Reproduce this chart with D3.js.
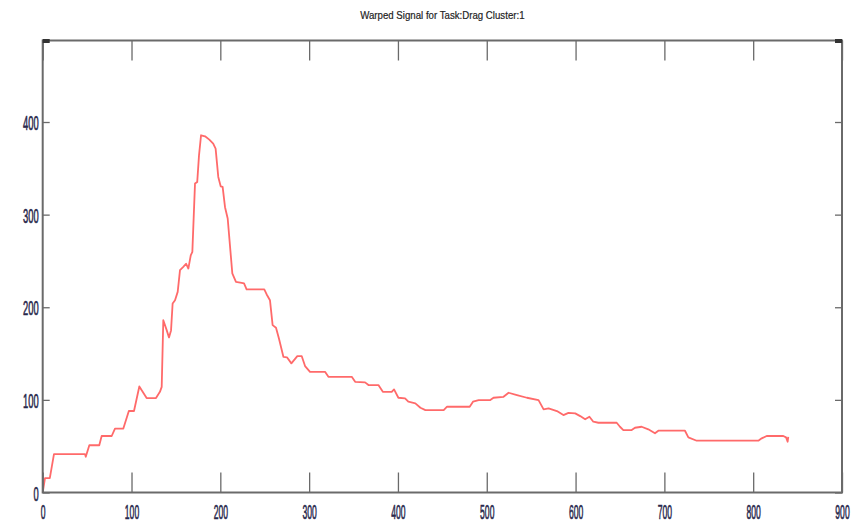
<!DOCTYPE html>
<html lang="en">
<head>
    <meta charset="UTF-8">
    <script type="text/javascript" src="https://cdn.jsdelivr.net/npm/d3@7"></script>
    <title>Warped Signal</title>
    <style type="text/css">
        body {
            margin: 0;
            background-color: white;
        }

        .axis path {
            display: none;
        }

        .axis line {
            stroke: #6a6a6a;
            stroke-width: 1.3;
        }

        .axis text {
            font-family: "Liberation Sans", Arial, sans-serif;
            font-size: 11px;
            fill: #28284c;
            stroke: #28284c;
            stroke-width: 0.35;
        }
    </style>
</head>
<body>
<svg id="chart" width="862" height="524"></svg>

<script>
    // sample index / warped value
    var sigX = [0, 2.6, 8, 12.7, 47.6, 48.5, 52.5, 63.7, 66.4, 77.7, 81.4, 90.8, 97, 102.8, 108.8,
        117, 127.6, 132, 134, 135.8, 139.6, 142.2, 144.5, 146.3, 149, 152, 154.6, 158.3, 161.4,
        164, 166.7, 168.5, 171.5, 174, 176, 178.3, 182.8, 187.6, 192, 194.7, 197.7, 200.4, 202.6,
        205.3, 208.3, 213.5, 217.6, 224, 226.7, 229.6, 249.5, 252.2, 255.9, 258.9, 262.7, 266,
        271, 275, 280, 286.7, 291.7, 295.4, 301, 317.9, 321.7, 348, 351.8, 363, 366.8, 378, 383,
        393, 395.6, 400.5, 408, 411.7, 419.6, 425.3, 430.9, 451.5, 455.3, 480.8, 484.5, 490.9,
        504, 507.6, 518.9, 524.6, 534, 545.2, 558.3, 564, 569.6, 579, 586.3, 592, 599.6, 605.2,
        610.8, 615.6, 620, 625.7, 646.3, 650, 653.8, 663.2, 666.9, 674.4, 681.9, 689.4, 693.2,
        723.2, 727, 736.4, 805.8, 809.6, 815.2, 833.9, 837, 838.8, 839.5];
    var sigY = [0, 15.5, 15.5, 41.5, 41.5, 38.6, 51, 51, 61, 61, 69, 69, 88, 88, 114.5,
        102, 102, 108.7, 114, 186, 175.3, 167.4, 175, 204, 207.6, 216.6, 240, 243.6, 247,
        241.8, 256, 259.8, 333.6, 335.3, 364, 385.7, 384.6, 381, 376.7, 371.3, 340.7, 330.6, 330,
        308, 295.8, 236.5, 227.4, 226.3, 225.7, 219.2, 219.2, 213.8, 207.6, 180.7, 177.8, 166.3,
        146.5, 146, 139.4, 147.2, 147.2, 136.5, 130.3, 130.3, 124.9, 124.9, 119.5, 118.9, 116, 116, 108.7,
        108.7, 111.3, 102.3, 101.6, 98, 96.2, 91.5, 89, 89, 92.6, 92.6, 98, 99.8,
        99.8, 102.3, 103.3, 107.7, 105.2, 102.3, 99.8, 89.8, 90.8, 87.9, 83.6, 86, 85.4, 82.5,
        79, 81.8, 76.4, 75.3, 75.3, 71, 67.4, 67.4, 69.9, 71, 68.2, 63.9, 66.7,
        66.7, 59.5, 55.9, 55.9, 58.5, 61, 61, 59.5, 54.8, 60];

    var xTicks = [0, 100, 200, 300, 400, 500, 600, 700, 800, 900];
    var yTicks = [0, 100, 200, 300, 400];
    var titleText = "Warped Signal for Task:Drag Cluster:1";

    drawWarped();

    function drawWarped() {
        // plot box
        var boxL = 42.7, boxR = 842, boxT = 40.5, boxB = 492.5;

        var svg = d3.select("#chart");

        var x = d3.scaleLinear().domain([0, 900]).range([boxL, boxR]);
        var y = d3.scaleLinear().domain([0, 488]).range([boxB, boxT]);

        // data line
        var pts = sigX.map(function(d, i) { return [d, sigY[i]]; });
        var line = d3.line()
                .x(function(d) { return x(d[0]); })
                .y(function(d) { return y(d[1]); });

        svg.append("path")
                .datum(pts)
                .attr("d", line)
                .attr("fill", "none")
                .attr("stroke", "#ff5a5a")
                .attr("stroke-width", 1.8)
                .attr("stroke-opacity", 0.9)
                .attr("stroke-linejoin", "round");

        // inward ticks (matlab style), bottom with labels, top without
        var gxB = svg.append("g")
                .attr("class", "axis")
                .attr("transform", "translate(0," + boxB + ")")
                .call(d3.axisBottom(x).tickValues(xTicks).tickSize(-20).tickFormat(d3.format("d")));
        gxB.selectAll("text")
                .attr("y", 0).attr("dy", null)
                .attr("dominant-baseline", "central")
                .attr("transform", "translate(0,19) scale(0.78,1.9)");

        svg.append("g")
                .attr("class", "axis")
                .attr("transform", "translate(0," + boxT + ")")
                .call(d3.axisTop(x).tickValues(xTicks).tickSize(-20).tickFormat(""));

        var gyL = svg.append("g")
                .attr("class", "axis")
                .attr("transform", "translate(" + boxL + ",0)")
                .call(d3.axisLeft(y).tickValues(yTicks).tickSize(-7).tickFormat(d3.format("d")));
        gyL.selectAll("text")
                .attr("x", 0).attr("dy", null)
                .attr("dominant-baseline", "central")
                .attr("transform", "translate(-4,0) scale(0.85,1.9)");

        svg.append("g")
                .attr("class", "axis")
                .attr("transform", "translate(" + boxR + ",0)")
                .call(d3.axisRight(y).tickValues(yTicks).tickSize(-7).tickFormat(""));

        // box
        svg.append("rect")
                .attr("x", boxL).attr("y", boxT)
                .attr("width", boxR - boxL).attr("height", boxB - boxT)
                .attr("fill", "none")
                .attr("stroke", "#6a6a6a")
                .attr("stroke-width", 2);

        // darker corner marks at the top
        svg.append("rect").attr("x", boxL).attr("y", boxT - 1.5).attr("width", 7).attr("height", 4).attr("fill", "#333");
        svg.append("rect").attr("x", boxR - 7).attr("y", boxT - 1.5).attr("width", 7).attr("height", 4).attr("fill", "#333");

        // title, condensed like the original
        svg.append("text")
                .attr("transform", "translate(" + ((boxL + boxR) / 2) + ",15) scale(0.88,1.05)")
                .attr("text-anchor", "middle")
                .attr("dominant-baseline", "central")
                .style("font-family", "'Liberation Sans', Arial, sans-serif")
                .style("font-size", "11px")
                .style("fill", "#222")
                .style("stroke", "#222")
                .style("stroke-width", 0.2)
                .text(titleText);
    }
</script>
</body>
</html>
